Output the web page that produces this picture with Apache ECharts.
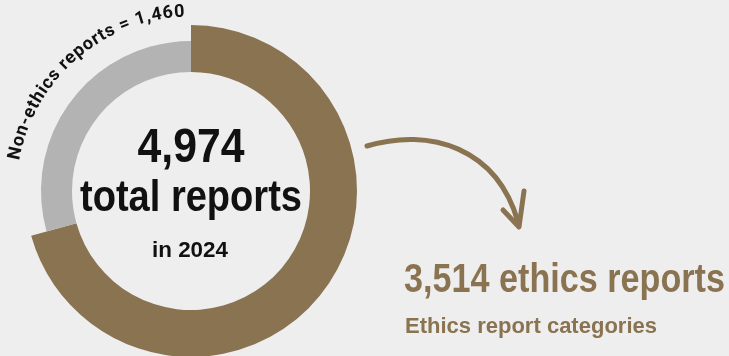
<!DOCTYPE html>
<html><head><meta charset="utf-8">
<script src="https://cdn.jsdelivr.net/npm/echarts@6/dist/echarts.min.js"></script>
<style>html,body{margin:0;padding:0;background:#eeeeee;}#c{width:729px;height:356px;}</style>
</head><body><div id="c"></div>
<script>
const categories = ['Ethics reports', 'Non-ethics reports'];
const values = [3514, 1460];
const total = 4974;
const year = '2024';
const arcLabel = 'Non-ethics reports = 1,460';

const BROWN = '#8a7350', GRAY = '#b3b3b3', BG = '#eeeeee';
const cx = 191, cy = 191;
const chart = echarts.init(document.getElementById('c'));
const ctx = document.createElement('canvas').getContext('2d');
const measure = (t, f) => { ctx.font = f; return ctx.measureText(t).width; };

// curved label along the arc (from ~170deg down to ~92deg)
const arcFont = 'bold 18px Roboto, "Liberation Sans", sans-serif';
const rBase = 170;
const a0 = 170 * Math.PI / 180, a1 = 92 * Math.PI / 180;
const chars = [...arcLabel];
const widths = chars.map(c => measure(c, arcFont));
const natural = widths.reduce((a, b) => a + b, 0);
const spacing = ((a0 - a1) * rBase - natural) / (chars.length - 1);
let theta = a0;
const arcEls = [];
chars.forEach((ch, i) => {
  const half = (widths[i] / 2) / rBase;
  theta -= half;
  arcEls.push({
    type: 'text', silent: true,
    x: cx + rBase * Math.cos(theta), y: cy - rBase * Math.sin(theta),
    rotation: theta - Math.PI / 2,
    style: { text: ch, x: 0, y: 0, align: 'center', verticalAlign: 'bottom', font: arcFont, fill: '#111' }
  });
  theta -= half + spacing / rBase;
});

const fmt = v => v.toLocaleString('en-US');
// place text so its baseline sits at y (top-aligned box, ascent ~0.76em)
function fitText(text, size, font, x, baseY, targetW, fill, align) {
  const w = measure(text, font);
  return { type: 'text', silent: true, x, y: baseY - 0.76 * size, scaleX: targetW / w,
    style: { text, align: align || 'center', verticalAlign: 'top', font, fill } };
}
const brushFont = s => 'bold ' + s + 'px "Liberation Sans", Arial, sans-serif';
const plainFont = s => 'bold ' + s + 'px "Liberation Sans", Arial, sans-serif';

chart.setOption({
  backgroundColor: BG,
  animation: false,
  series: [
    { type: 'pie', silent: true, center: [cx, cy], radius: [119, 166], startAngle: 90, clockwise: true,
      label: { show: false }, labelLine: { show: false },
      data: [
        { name: categories[0], value: values[0], itemStyle: { color: BROWN } },
        { name: categories[1], value: values[1], itemStyle: { color: 'rgba(0,0,0,0)' } }
      ] },
    { type: 'pie', silent: true, center: [cx, cy], radius: [119, 150], startAngle: 90, clockwise: true,
      label: { show: false }, labelLine: { show: false },
      data: [
        { name: categories[0], value: values[0], itemStyle: { color: 'rgba(0,0,0,0)' } },
        { name: categories[1], value: values[1], itemStyle: { color: GRAY } }
      ] }
  ],
  graphic: [
    ...arcEls,
    fitText(fmt(total), 48, brushFont(48), 191, 161, 107, '#111'),
    fitText('total reports', 45, brushFont(45), 191, 210, 222, '#111'),
    fitText('in ' + year, 22, plainFont(22), 190, 257, 76, '#111'),
    { type: 'bezierCurve', silent: true,
      shape: { x1: 367, y1: 146, cpx1: 430, cpy1: 127, cpx2: 497, cpy2: 148, x2: 518, y2: 222 },
      style: { stroke: BROWN, lineWidth: 5, fill: null, lineCap: 'round' } },
    { type: 'polyline', silent: true,
      shape: { points: [[503, 210], [519, 227], [524, 191]] },
      style: { stroke: BROWN, lineWidth: 5, fill: null, lineCap: 'round', lineJoin: 'round' } },
    fitText(fmt(values[0]) + ' ethics reports', 41, brushFont(41), 404, 291, 321, BROWN, 'left'),
    fitText('Ethics report categories', 22, plainFont(22), 405, 333, 252, BROWN, 'left')
  ]
});
</script></body></html>
